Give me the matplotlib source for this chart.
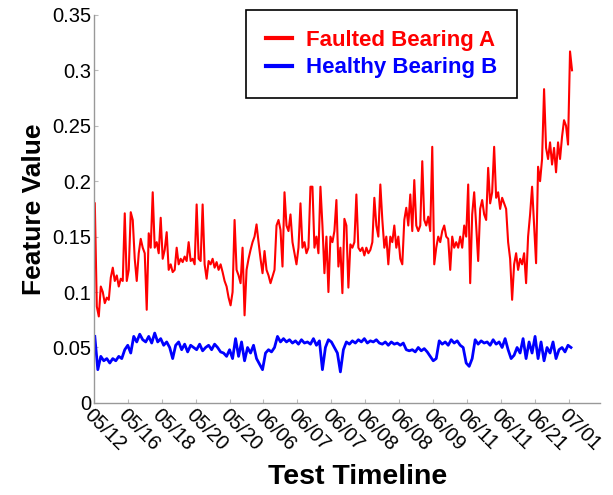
import numpy as np
import matplotlib
matplotlib.use('Agg')
import matplotlib.pyplot as plt
from matplotlib.ticker import FormatStrFormatter

plt.rcParams['font.family'] = ['Liberation Sans', 'DejaVu Sans']

# Etiquetas del eje temporal
tick_labels = ['05/12', '05/16', '05/18', '05/20', '05/20', '06/06', '06/07', '06/07',
               '06/08', '06/08', '06/09', '06/11', '06/11', '06/21', '07/01']

# Rodamiento A (con falla)
faulted_a = [
    0.18, 0.087, 0.078, 0.105, 0.10, 0.09, 0.095, 0.093, 0.113, 0.122,
    0.11, 0.115, 0.105, 0.112, 0.11, 0.171, 0.11, 0.12, 0.172, 0.165,
    0.13, 0.11, 0.135, 0.148, 0.14, 0.135, 0.084, 0.153, 0.14, 0.19,
    0.14, 0.145, 0.135, 0.167, 0.13, 0.138, 0.154, 0.12, 0.125, 0.118,
    0.12, 0.14, 0.125, 0.13, 0.127, 0.132, 0.128, 0.145, 0.128, 0.13,
    0.125, 0.179, 0.13, 0.128, 0.179, 0.125, 0.112, 0.128, 0.125, 0.13,
    0.122, 0.127, 0.12, 0.125, 0.118, 0.11, 0.105, 0.095, 0.088, 0.10,
    0.165, 0.12, 0.115, 0.108, 0.14, 0.079, 0.12, 0.13, 0.138, 0.145,
    0.15, 0.161, 0.145, 0.13, 0.117, 0.137, 0.12, 0.115, 0.108, 0.114,
    0.12, 0.16, 0.165, 0.156, 0.123, 0.19, 0.16, 0.155, 0.17, 0.145,
    0.135, 0.125, 0.14, 0.18, 0.14, 0.145, 0.135, 0.14, 0.195, 0.195,
    0.14, 0.15, 0.135, 0.195, 0.16, 0.117, 0.15, 0.10, 0.15, 0.145,
    0.155, 0.183, 0.123, 0.14, 0.099, 0.166, 0.16, 0.104, 0.143, 0.14,
    0.145, 0.188, 0.14, 0.137, 0.14, 0.133, 0.14, 0.135, 0.138, 0.145,
    0.185, 0.16, 0.15, 0.197, 0.165, 0.14, 0.15, 0.125, 0.15, 0.145,
    0.16, 0.14, 0.15, 0.13, 0.125, 0.165, 0.176, 0.16, 0.188, 0.155,
    0.201, 0.16, 0.155, 0.16, 0.218, 0.165, 0.16, 0.168, 0.155, 0.231,
    0.125, 0.14, 0.15, 0.145, 0.155, 0.16, 0.15, 0.148, 0.12, 0.15,
    0.14, 0.145, 0.14, 0.15, 0.14, 0.16, 0.15, 0.197, 0.108, 0.17,
    0.19, 0.16, 0.128, 0.175, 0.183, 0.17, 0.165, 0.212, 0.18, 0.19,
    0.231, 0.185, 0.19, 0.175, 0.185, 0.18, 0.175, 0.145, 0.13, 0.093,
    0.125, 0.135, 0.12, 0.13, 0.125, 0.135, 0.108, 0.15, 0.17, 0.195,
    0.16, 0.126, 0.213, 0.20, 0.22, 0.283, 0.23, 0.22, 0.235, 0.215,
    0.23, 0.208, 0.235, 0.22, 0.24, 0.255, 0.25, 0.233, 0.317, 0.30,
]

# Rodamiento B (sano)
healthy_b = [
    0.06, 0.03, 0.042, 0.038, 0.04, 0.036, 0.04, 0.038, 0.042, 0.04,
    0.048, 0.052, 0.045, 0.06, 0.055, 0.062, 0.057, 0.055, 0.06, 0.054,
    0.063, 0.055, 0.058, 0.052, 0.055, 0.05, 0.04, 0.052, 0.055, 0.048,
    0.053, 0.046, 0.052, 0.05, 0.048, 0.053, 0.047, 0.05, 0.052, 0.048,
    0.053, 0.05, 0.046, 0.045, 0.042, 0.048, 0.04, 0.058, 0.042, 0.055,
    0.038, 0.05, 0.045, 0.052, 0.04, 0.035, 0.03, 0.045, 0.048, 0.046,
    0.05, 0.06, 0.055, 0.058, 0.055, 0.057, 0.054, 0.056, 0.053, 0.057,
    0.054, 0.055, 0.053, 0.058, 0.052, 0.056, 0.03, 0.05, 0.057, 0.055,
    0.05, 0.045, 0.028, 0.048, 0.055, 0.053, 0.056, 0.054, 0.057, 0.055,
    0.058, 0.054, 0.056, 0.055, 0.057, 0.054, 0.053, 0.055, 0.052, 0.055,
    0.053, 0.054, 0.052, 0.054, 0.048, 0.047, 0.048, 0.046, 0.05, 0.047,
    0.049, 0.046, 0.042, 0.038, 0.04, 0.056, 0.053, 0.055, 0.052, 0.057,
    0.054, 0.056, 0.052, 0.05, 0.036, 0.033, 0.04, 0.057, 0.053, 0.056,
    0.054, 0.055, 0.052, 0.057, 0.053, 0.055, 0.05, 0.058, 0.048, 0.04,
    0.043, 0.05, 0.045, 0.058, 0.04, 0.055, 0.045, 0.06, 0.04, 0.055,
    0.038, 0.05, 0.045, 0.055, 0.04, 0.048, 0.05, 0.046, 0.052, 0.05,
]

x_a = np.linspace(0.03, 14.09, len(faulted_a))
x_b = np.linspace(0.03, 14.06, len(healthy_b))

fig = plt.figure(figsize=(6.13, 4.95), dpi=100)
ax = fig.add_axes([0.153, 0.186, 0.825, 0.784])

ax.plot(x_a, faulted_a, color='#ff0000', lw=1.5, label='Faulted Bearing A')
ax.plot(x_b, healthy_b, color='#0000ff', lw=2.0, label='Healthy Bearing B')

ax.set_xlim(0, 14.9)
ax.set_ylim(0, 0.35)
ax.set_yticks(np.arange(0, 0.351, 0.05))
ax.yaxis.set_major_formatter(FormatStrFormatter('%g'))
ax.set_xticks(np.arange(len(tick_labels)))
ax.set_xticklabels(tick_labels, rotation=-45, ha='left', va='top',
                   rotation_mode='anchor')

for s in ['top', 'right']:
    ax.spines[s].set_visible(False)
for s in ['left', 'bottom']:
    ax.spines[s].set_color('#999999')
    ax.spines[s].set_linewidth(1.0)
ax.tick_params(direction='in', length=3, color='#bbbbbb', labelsize=14.5, pad=2)

ax.set_ylabel('Feature Value', fontsize=19, fontweight='bold', labelpad=4)
fig.text(358 / 613, 1 - 477 / 495, 'Test Timeline', fontsize=20.5,
         fontweight='bold', ha='center', va='center')

leg = ax.legend(loc='upper left', bbox_to_anchor=(0.30, 1.013),
                prop={'weight': 'bold', 'size': 16}, labelcolor='linecolor',
                handlelength=1.2, handletextpad=0.6, borderpad=0.9,
                labelspacing=0.3, fancybox=False, framealpha=1, borderaxespad=0)
leg.get_frame().set_edgecolor('black')
leg.get_frame().set_linewidth(1.2)
for h in leg.get_lines():
    h.set_linewidth(3)

fig.savefig('out.png', dpi=100)
